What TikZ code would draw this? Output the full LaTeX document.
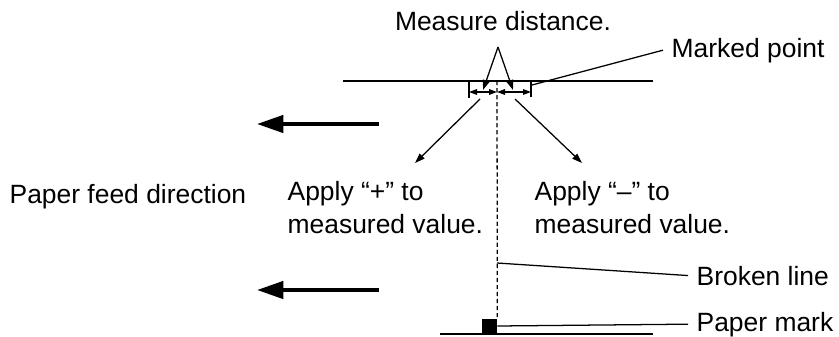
\documentclass[tikz,border=0pt]{standalone}
\usepackage{fontspec}
\setmainfont{Liberation Sans}
\usetikzlibrary{arrows.meta,positioning,calc}

\begin{document}
\begin{tikzpicture}[x=0.025cm,y=-0.025cm,line width=0.9pt,
    every node/.style={font=\fontsize{18.8}{23.4}\selectfont,inner sep=0pt},
    lbl/.style={anchor=base west,align=left,inner xsep=0.2cm},
    feed/.style={line width=2.8pt,-{Triangle[length=0.66cm,width=0.43cm]}},
    dim/.style={{Triangle[length=0.2cm,width=0.14cm]}-{Triangle[length=0.2cm,width=0.14cm]}},
    pointer/.style={-{Triangle[length=0.25cm,width=0.17cm]}}]
    \useasboundingbox (0,0) rectangle (839,336);
    % reference lines
    \coordinate (tl) at (343,81);
    \coordinate (tr) at (653,81);
    \coordinate (bl) at (440,334);
    \coordinate (br) at (653,334);
    \draw (tl)--(tr);
    \draw (bl)--(br);
    % labels
    \node[anchor=base] (measure) at (503,30) {Measure distance.};
    \node[lbl] (marked) at (663,57) {Marked point};
    \node[lbl,inner xsep=0pt] (feedtxt) at (9,203) {Paper feed direction};
    \node[lbl,inner xsep=0pt] (plus) at (287,233) {Apply “+” to\\measured value.};
    \node[lbl,inner xsep=0pt] (minus) at (534,233) {Apply “–” to\\measured value.};
    \node[lbl] (broken) at (688,285) {Broken line};
    \node[lbl] (papermark) at (688,331) {Paper mark};
    % paper mark and broken line
    \node[fill,minimum size=0.36cm] (mark) at (489.5,326) {};
    \coordinate (ctop) at (497,81);
    \coordinate (cmid) at (497,263);
    \draw[dashed,dash pattern=on 3pt off 2pt] (ctop)--(mark.north east);
    \draw (cmid)--(broken.west);
    \draw (mark.east)--(papermark.west);
    % measuring marks
    \coordinate (lt) at (469,80);
    \coordinate (rt) at (531,80);
    \draw (lt)--++(0,18);
    \draw (rt)--++(0,17);
    \draw[dim] (469,92)--(497,92);
    \draw[dim] (497,92)--(531,92);
    \coordinate (apex) at (498,47);
    \draw[pointer] (apex)--(483,90);
    \draw[pointer] (apex)--(513,90);
    \draw (532,85)--(marked.west);
    % direction arrows
    \draw[pointer] (480,99)--(415,163);
    \draw[pointer] (515,99)--(582,163);
    \draw[feed] (379,124)--(257,124);
    \draw[feed] (379,290)--(257,290);
\end{tikzpicture}
\end{document}
